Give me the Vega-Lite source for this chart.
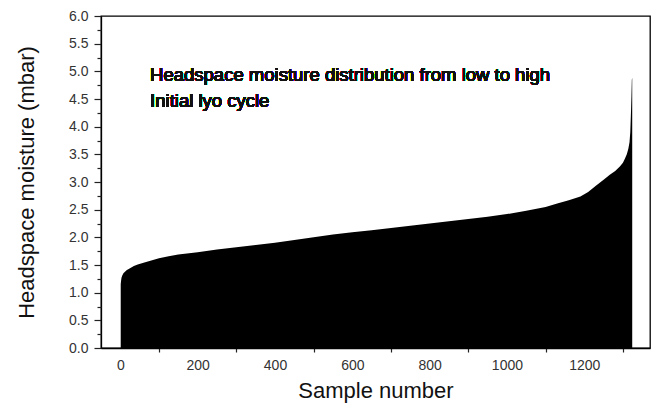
{
  "$schema": "https://vega.github.io/schema/vega-lite/v6.json",
  "width": 549,
  "height": 332,
  "autosize": {"type": "none"},
  "padding": {"left": 101, "top": 16, "right": 7, "bottom": 57},
  "background": "white",
  "config": {
    "font": "Liberation Sans",
    "view": {"stroke": "#000", "strokeWidth": 1.3},
    "axis": {
      "domainColor": "#000",
      "domainWidth": 1.3,
      "tickColor": "#222",
      "tickWidth": 1.2,
      "grid": false,
      "labelColor": "#333",
      "labelFontSize": 14,
      "labelOverlap": false,
      "titleColor": "#111",
      "titleFontSize": 22,
      "titleFontWeight": "normal"
    }
  },
  "data": {
    "values": [
      {"sample": 1, "moisture": 1.15},
      {"sample": 2, "moisture": 1.22},
      {"sample": 3, "moisture": 1.27},
      {"sample": 5, "moisture": 1.31},
      {"sample": 8, "moisture": 1.35},
      {"sample": 12, "moisture": 1.38},
      {"sample": 17, "moisture": 1.41},
      {"sample": 25, "moisture": 1.44},
      {"sample": 35, "moisture": 1.48},
      {"sample": 45, "moisture": 1.51},
      {"sample": 60, "moisture": 1.54},
      {"sample": 80, "moisture": 1.58},
      {"sample": 100, "moisture": 1.62},
      {"sample": 125, "moisture": 1.66},
      {"sample": 150, "moisture": 1.69},
      {"sample": 200, "moisture": 1.73},
      {"sample": 250, "moisture": 1.78},
      {"sample": 300, "moisture": 1.82},
      {"sample": 350, "moisture": 1.86},
      {"sample": 400, "moisture": 1.9},
      {"sample": 450, "moisture": 1.95},
      {"sample": 500, "moisture": 2.0},
      {"sample": 550, "moisture": 2.05},
      {"sample": 600, "moisture": 2.09},
      {"sample": 650, "moisture": 2.13},
      {"sample": 700, "moisture": 2.17},
      {"sample": 750, "moisture": 2.21},
      {"sample": 800, "moisture": 2.25},
      {"sample": 850, "moisture": 2.29},
      {"sample": 900, "moisture": 2.33},
      {"sample": 950, "moisture": 2.37},
      {"sample": 1000, "moisture": 2.42},
      {"sample": 1050, "moisture": 2.48},
      {"sample": 1100, "moisture": 2.55},
      {"sample": 1130, "moisture": 2.61},
      {"sample": 1160, "moisture": 2.67},
      {"sample": 1190, "moisture": 2.74},
      {"sample": 1210, "moisture": 2.82},
      {"sample": 1230, "moisture": 2.93},
      {"sample": 1250, "moisture": 3.04},
      {"sample": 1266, "moisture": 3.13},
      {"sample": 1280, "moisture": 3.2},
      {"sample": 1292, "moisture": 3.28},
      {"sample": 1300, "moisture": 3.35},
      {"sample": 1305, "moisture": 3.42},
      {"sample": 1310, "moisture": 3.5},
      {"sample": 1314, "moisture": 3.6},
      {"sample": 1317, "moisture": 3.72},
      {"sample": 1319, "moisture": 3.9},
      {"sample": 1320, "moisture": 4.1},
      {"sample": 1321, "moisture": 4.3},
      {"sample": 1322, "moisture": 4.55},
      {"sample": 1323, "moisture": 4.85},
      {"sample": 1324, "moisture": 4.88}
    ]
  },
  "resolve": {"axis": {"y": "independent"}},
  "layer": [
    {
      "mark": {"type": "area", "color": "#000", "interpolate": "linear"},
      "encoding": {
        "x": {
          "field": "sample",
          "type": "quantitative",
          "scale": {"domain": [-50, 1370], "nice": false, "zero": false},
          "axis": {
            "title": "Sample number",
            "values": [0, 100, 200, 300, 400, 500, 600, 700, 800, 900, 1000, 1100, 1200, 1300],
            "labelExpr": "datum.value % 200 === 0 ? datum.value : ''",
            "tickSize": 4,
            "tickOpacity": {"condition": {"test": "datum.value % 200 === 0", "value": 0}, "value": 1},
            "labelPadding": 6,
            "labelFlush": false,
            "titlePadding": 8
          }
        },
        "y": {
          "field": "moisture",
          "type": "quantitative",
          "scale": {"domain": [0, 6], "nice": false},
          "axis": {
            "title": "Headspace moisture (mbar)",
            "orient": "left",
            "values": [0, 0.5, 1, 1.5, 2, 2.5, 3, 3.5, 4, 4.5, 5, 5.5, 6],
            "format": ".1f",
            "tickSize": 7,
            "labelPadding": 6,
            "labelFlush": false,
            "titlePadding": 30
          }
        }
      }
    },
    {
      "mark": {"type": "text", "align": "left", "baseline": "middle", "fontSize": 18.5, "color": "#111", "font": "Liberation Sans"},
      "encoding": {
        "x": {"datum": 77, "type": "quantitative"},
        "y": {
          "datum": 4.93,
          "type": "quantitative",
          "axis": {
            "title": null,
            "orient": "left",
            "values": [0.25, 0.75, 1.25, 1.75, 2.25, 2.75, 3.25, 3.75, 4.25, 4.75, 5.25, 5.75],
            "labels": false,
            "domain": false,
            "tickSize": 4
          }
        },
        "text": {"value": "Headspace moisture distribution from low to high"}
      }
    },
    {
      "mark": {"type": "text", "align": "left", "baseline": "middle", "fontSize": 18.5, "color": "#111", "font": "Liberation Sans"},
      "encoding": {
        "x": {"datum": 77, "type": "quantitative"},
        "y": {"datum": 4.46, "type": "quantitative", "axis": null},
        "text": {"value": "Initial lyo cycle"}
      }
    }
  ]
}
